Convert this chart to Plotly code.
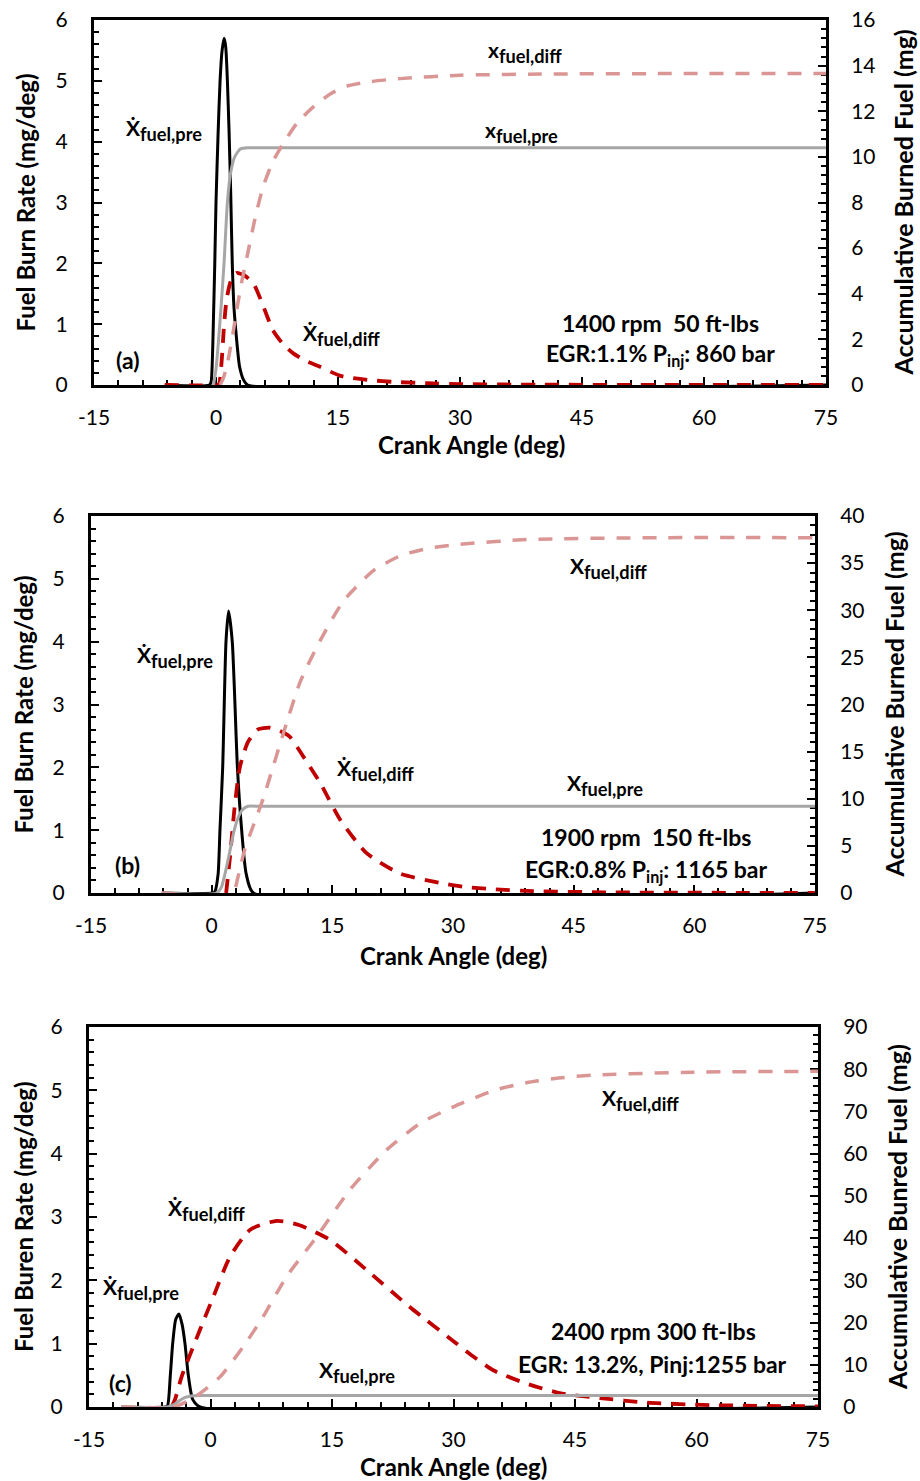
import plotly.graph_objects as go

# ---------------- Panel (a): 1400 rpm, 50 ft-lbs ----------------
a_pre_rate_x = [-6.3, -0.8, -0.6, -0.45, -0.33, -0.15, 0.0, 0.25, 0.5, 0.75, 1.0, 1.2, 1.4, 1.6, 1.8, 2.0, 2.2, 2.5, 2.9, 3.4, 3.9, 75]
a_pre_rate_y = [0, 0, 0.05, 0.4, 1.0, 2.0, 3.0, 4.1, 5.0, 5.5, 5.7, 5.55, 5.0, 4.2, 3.2, 2.0, 1.3, 0.8, 0.3, 0.08, 0, 0]
a_diff_rate_x = [-6.3, 0.2, 0.4, 0.7, 1.0, 1.3, 1.8, 2.5, 3.5, 4.6, 5.8, 7.0, 8.2, 9.5, 11, 12.8, 15.3, 18.9, 22, 26, 30, 40, 75]
a_diff_rate_y = [0, 0, 0.02, 0.4, 1.0, 1.4, 1.7, 1.84, 1.8, 1.67, 1.3, 0.9, 0.68, 0.52, 0.4, 0.3, 0.15, 0.08, 0.05, 0.03, 0.015, 0.005, 0]
a_pre_cum_x = [-0.3, 0.0, 0.3, 0.6, 1.0, 1.4, 1.8, 2.3, 3.0, 4.0, 6.0, 10.0, 75]
a_pre_cum_y = [0, 0.7, 1.9, 3.3, 5.4, 8.0, 9.3, 10.0, 10.35, 10.4, 10.4, 10.4, 10.4]
a_diff_cum_x = [0.5, 1.0, 1.6, 2.1, 2.7, 3.2, 3.8, 4.8, 5.8, 7.0, 8.3, 10, 12, 14, 16.1, 19, 22.6, 30, 40, 55, 75]
a_diff_cum_y = [0, 0.4, 1.3, 2.3, 3.6, 4.6, 5.6, 7.3, 8.7, 9.8, 10.6, 11.5, 12.2, 12.75, 13.1, 13.3, 13.43, 13.58, 13.63, 13.65, 13.65]

# ---------------- Panel (b): 1900 rpm, 150 ft-lbs ----------------
b_pre_rate_x = [-6.2, 0.2, 0.4, 0.8, 1.03, 1.37, 1.78, 2.1, 2.56, 3.2, 3.73, 4.3, 5.2, 75]
b_pre_rate_y = [0, 0, 0.02, 0.3, 1.0, 2.0, 4.0, 4.49, 4.0, 2.0, 1.0, 0.3, 0, 0]
b_diff_rate_x = [1.8, 2.3, 2.8, 3.5, 4.5, 5.7, 7.2, 8.5, 9.7, 11.5, 13.5, 16, 19.3, 23.4, 28.8, 31.2, 35, 40, 50, 75]
b_diff_rate_y = [0, 0.6, 1.3, 2.0, 2.4, 2.6, 2.63, 2.58, 2.49, 2.15, 1.75, 1.16, 0.63, 0.31, 0.15, 0.10, 0.06, 0.03, 0.01, 0]
b_pre_cum_x = [-6.2, 0.6, 1.2, 1.86, 2.3, 2.7, 3.2, 3.8, 4.5, 6.0, 10.0, 75]
b_pre_cum_y = [0, 0, 0.6, 2.8, 4.6, 6.3, 7.8, 8.8, 9.2, 9.2, 9.2, 9.2]
b_diff_cum_x = [-6.2, 2.6, 3.3, 4.1, 5.2, 6.4, 7.6, 8.9, 11.0, 13.5, 16.4, 20.1, 23.5, 27.1, 30.9, 39.2, 55.8, 75]
b_diff_cum_y = [0, 0, 1.8, 4.6, 7.2, 10.0, 13.3, 16.9, 22.4, 26.8, 31.0, 34.2, 35.8, 36.6, 37.0, 37.5, 37.7, 37.7]

# ---------------- Panel (c): 2400 rpm, 300 ft-lbs ----------------
c_pre_rate_x = [-11, -5.6, -5.3, -4.96, -4.67, -4.3, -3.9, -3.5, -3.15, -2.74, -2.2, -1.3, 75]
c_pre_rate_y = [0, 0, 0.02, 0.5, 1.0, 1.38, 1.47, 1.3, 1.0, 0.5, 0.12, 0, 0]
c_diff_rate_x = [-4.8, -4.4, -3.56, -1.3, 0.35, 2.4, 4.9, 8.2, 11.0, 14.75, 19.3, 24.6, 30.4, 32.4, 34.9, 39.0, 43.1, 48.1, 53.9, 61.7, 75]
c_diff_rate_y = [0, 0.11, 0.48, 1.22, 1.74, 2.37, 2.80, 2.94, 2.87, 2.64, 2.16, 1.58, 1.0, 0.80, 0.58, 0.37, 0.22, 0.14, 0.07, 0.03, 0.01]
c_pre_cum_x = [-11, -5.4, -4.5, -3.9, -3.2, -2.4, -1.5, 0.0, 3.0, 75]
c_pre_cum_y = [0, 0, 0.6, 1.4, 2.2, 2.6, 2.7, 2.7, 2.7, 2.7]
c_diff_cum_x = [-11, -4.6, -3.0, -1.3, 1.2, 4.05, 6.5, 9.4, 13.1, 17.2, 21.75, 25.9, 30.0, 35.0, 39.0, 43.0, 47.3, 59.6, 75]
c_diff_cum_y = [0, 0, 1.2, 3.2, 7.2, 14.3, 21.4, 30.9, 40.3, 51.4, 60.9, 67.2, 71.1, 75.0, 76.8, 77.9, 78.6, 79.3, 79.5]

# Axis ranges / tick steps for the right-hand (cumulative) axes
right_ranges = [(0, 16), (0, 40), (0, 90)]
right_dticks = [(2, 0.4), (5, 1), (10, 2)]
left_titles = ["Fuel Burn Rate (mg/deg)", "Fuel Burn Rate (mg/deg)", "Fuel Buren Rate (mg/deg)"]
right_titles = ["Accumulative Burned Fuel (mg)", "Accumulative Burned Fuel (mg)", "Accumulative Bunred Fuel (mg)"]
x_title = "Crank Angle (deg)"
x_tickvals = [-15, 0, 15, 30, 45, 60, 75]
x_ticktext = ["-15", "0", "15", "30", "45", "60", "75"]

W, H = 920, 1481
FONT = "Lato, 'DejaVu Sans', sans-serif"
BLACK = "#000000"
GRAY = "#A6A6A6"
RED = "#C00000"
PINK = "#DA9694"

# Plot-area boxes in pixels: (left, right, top, bottom)
boxes = [(94, 826, 20, 385), (91, 815, 516, 893), (89, 818, 1027, 1407)]


def px(x):
    return x / W


def py(y):
    return 1 - y / H


panels = [
    (a_pre_rate_x, a_pre_rate_y, a_diff_rate_x, a_diff_rate_y, a_pre_cum_x, a_pre_cum_y, a_diff_cum_x, a_diff_cum_y),
    (b_pre_rate_x, b_pre_rate_y, b_diff_rate_x, b_diff_rate_y, b_pre_cum_x, b_pre_cum_y, b_diff_cum_x, b_diff_cum_y),
    (c_pre_rate_x, c_pre_rate_y, c_diff_rate_x, c_diff_rate_y, c_pre_cum_x, c_pre_cum_y, c_diff_cum_x, c_diff_cum_y),
]

fig = go.Figure()
layout = dict(
    width=W, height=H, margin=dict(l=0, r=0, t=0, b=0, autoexpand=False),
    paper_bgcolor="white", plot_bgcolor="white", showlegend=False,
    font=dict(family=FONT, color="black", size=20),
)

tickfont = dict(family=FONT, size=21, color="black")
minor_common = dict(ticks="inside", ticklen=5, tickwidth=2, tickcolor=BLACK)

for i, (box, data) in enumerate(zip(boxes, panels)):
    l, r, t, b = box
    xa = "x" if i == 0 else f"x{i + 1}"
    yl = "y" if i == 0 else f"y{2 * i + 1}"
    yr = f"y{2 * i + 2}"
    xkey = "xaxis" if i == 0 else f"xaxis{i + 1}"
    ylkey = "yaxis" if i == 0 else f"yaxis{2 * i + 1}"
    yrkey = f"yaxis{2 * i + 2}"

    layout[xkey] = dict(
        domain=[px(l), px(r)], anchor=yl, range=[-15, 75],
        tickmode="array", tickvals=x_tickvals, ticktext=x_ticktext,
        showline=True, linecolor=BLACK, linewidth=3, mirror=True,
        ticks="inside", ticklen=8, tickwidth=2, tickcolor=BLACK,
        minor=dict(dtick=3, tick0=0, **minor_common),
        showgrid=False, zeroline=False, tickfont=tickfont, ticklabelstandoff=12,
        layer="below traces", automargin=False,
    )
    layout[ylkey] = dict(
        domain=[py(b), py(t)], anchor=xa, range=[0, 6], dtick=1, tick0=0,
        showline=True, linecolor=BLACK, linewidth=3,
        ticks="inside", ticklen=8, tickwidth=2, tickcolor=BLACK,
        minor=dict(dtick=0.2, tick0=0, **minor_common),
        showgrid=False, zeroline=False, tickfont=tickfont, ticklabelstandoff=19,
        layer="below traces", automargin=False,
    )
    rlo, rhi = right_ranges[i]
    dmaj, dmin = right_dticks[i]
    layout[yrkey] = dict(
        overlaying=yl, side="right", anchor=xa, range=[rlo, rhi], dtick=dmaj, tick0=0,
        showline=True, linecolor=BLACK, linewidth=3,
        ticks="inside", ticklen=8, tickwidth=2, tickcolor=BLACK,
        minor=dict(dtick=dmin, tick0=0, **minor_common),
        showgrid=False, zeroline=False, tickfont=tickfont, ticklabelstandoff=18,
        layer="below traces", automargin=False,
    )

    pr_x, pr_y, dr_x, dr_y, pc_x, pc_y, dc_x, dc_y = data
    fig.add_trace(go.Scatter(x=pc_x, y=pc_y, xaxis=xa, yaxis=yr, mode="lines",
                             line=dict(color=GRAY, width=3, shape="spline", smoothing=0.6)))
    fig.add_trace(go.Scatter(x=dc_x, y=dc_y, xaxis=xa, yaxis=yr, mode="lines",
                             line=dict(color=PINK, width=3.5, dash="14px,12px", shape="spline", smoothing=0.6)))
    fig.add_trace(go.Scatter(x=pr_x, y=pr_y, xaxis=xa, yaxis=yl, mode="lines",
                             line=dict(color=BLACK, width=3, shape="spline", smoothing=0.6)))
    fig.add_trace(go.Scatter(x=dr_x, y=dr_y, xaxis=xa, yaxis=yl, mode="lines",
                             line=dict(color=RED, width=3.8, dash="14px,10px", shape="spline", smoothing=0.6)))

annotations = []


def note(x, y, text, size=23, angle=0):
    annotations.append(dict(x=px(x), y=py(y), xref="paper", yref="paper", text=text,
                            showarrow=False, textangle=angle, xanchor="center", yanchor="middle",
                            font=dict(family=FONT, size=size, color="black")))


def sym(letter, sub):
    # bold symbol letter with its subscript
    return f"<b><span style='font-size:21px'>{letter}</span><sub>{sub}</sub></b>"


# axis titles
for i, (l, r, t, b) in enumerate(boxes):
    mid = (t + b) / 2
    note([25, 23, 23][i], mid, f"<b>{left_titles[i]}</b>", size=24, angle=-90)
    note([902, 893, 897][i], mid, f"<b>{right_titles[i]}</b>", size=25, angle=-90)
    note([471, 453, 453][i], [444, 955, 1466][i], f"<b>{x_title}</b>", size=24)

NB = "\u00a0"
XD = "\u1E8A"
SYM = 26
# panel (a)
note(164, 130, sym(XD, "fuel,pre"), size=SYM)
note(341, 335, sym(XD, "fuel,diff"), size=SYM)
note(525, 52, sym("x", "fuel,diff"), size=SYM)
note(521, 132, sym("x", "fuel,pre"), size=SYM)
note(660, 323, f"<b>1400 rpm{NB}{NB}50 ft-lbs</b>")
note(660, 355, "<b>EGR:1.1% P<sub>inj</sub>: 860 bar</b>")
note(127, 360, "<b>(a)</b>")
# panel (b)
note(175, 657, sym(XD, "fuel,pre"), size=SYM)
note(375, 770, sym(XD, "fuel,diff"), size=SYM)
note(608, 568, sym("X", "fuel,diff"), size=SYM)
note(605, 785, sym("X", "fuel,pre"), size=SYM)
note(646, 837, f"<b>1900 rpm{NB}{NB}150 ft-lbs</b>")
note(646, 871, "<b>EGR:0.8% P<sub>inj</sub>: 1165 bar</b>")
note(127, 865, "<b>(b)</b>")
# panel (c)
note(206, 1210, sym(XD, "fuel,diff"), size=SYM)
note(141, 1289, sym(XD, "fuel,pre"), size=SYM)
note(640, 1100, sym("X", "fuel,diff"), size=SYM)
note(357, 1372, sym("X", "fuel,pre"), size=SYM)
note(653, 1331, "<b>2400 rpm 300 ft-lbs</b>")
note(652, 1364, "<b>EGR: 13.2%, Pinj:1255 bar</b>")
note(121, 1383, "<b>(c)</b>")

layout["annotations"] = annotations
fig.update_layout(**layout)
fig.write_html("out.html")
